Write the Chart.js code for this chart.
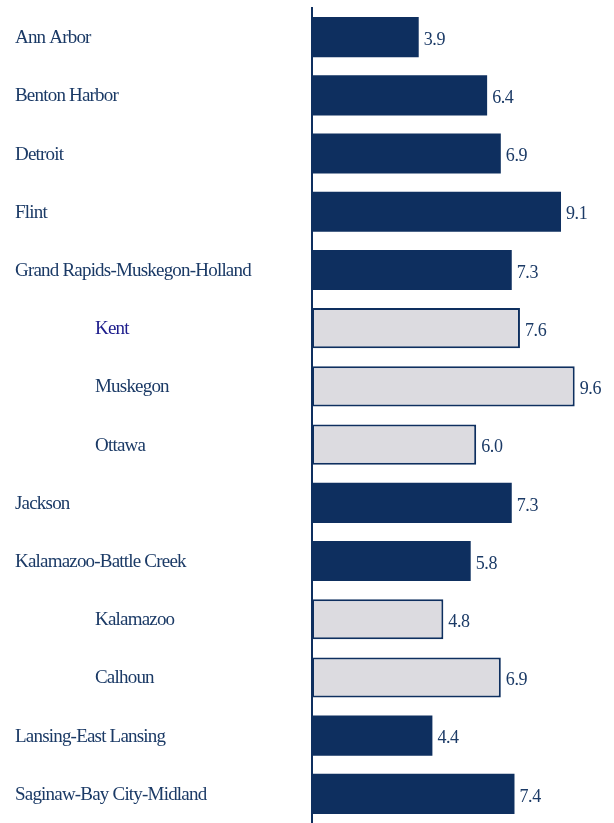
<!DOCTYPE html>
<html>
<head>
<meta charset="utf-8">
<script src="https://cdn.jsdelivr.net/npm/chart.js@4"></script>
<style>
  html, body { margin: 0; padding: 0; background: #fff; }
  #wrap { width: 614px; height: 823px; }
</style>
</head>
<body>
<div id="wrap"><canvas id="rateChart" width="614" height="823"></canvas></div>
<script>
// Data
const areas = ['Ann Arbor', 'Benton Harbor', 'Detroit', 'Flint', 'Grand Rapids-Muskegon-Holland',
  'Kent', 'Muskegon', 'Ottawa', 'Jackson', 'Kalamazoo-Battle Creek', 'Kalamazoo', 'Calhoun',
  'Lansing-East Lansing', 'Saginaw-Bay City-Midland'];
const rates = [3.9, 6.4, 6.9, 9.1, 7.3, 7.6, 9.6, 6.0, 7.3, 5.8, 4.8, 6.9, 4.4, 7.4];
// true = county inside a metro area (indented, light bar)
const isCounty = [false, false, false, false, false, true, true, true, false, false, true, true, false, false];

const navy = '#0e2f5f';
const textNavy = '#1b3a66';
const lightFill = '#dcdbe0';

// labels on the left and values after each bar
const labelPlugin = {
    id: 'labels',
    afterDatasetsDraw(chart) {
        const ctx = chart.ctx;
        const yScale = chart.scales.y;
        const meta = chart.getDatasetMeta(0);
        ctx.save();
        ctx.textBaseline = 'middle';
        ctx.textAlign = 'left';
        areas.forEach((name, i) => {
            const y = yScale.getPixelForValue(i);
            ctx.font = '19px "Liberation Serif", "Times New Roman", serif';
            ctx.letterSpacing = '-0.8px';
            ctx.fillStyle = name === 'Kent' ? '#1c1c8c' : textNavy;
            ctx.fillText(name, isCounty[i] ? 95 : 15, y + 1);

            const bar = meta.data[i];
            ctx.font = '18px "Liberation Serif", "Times New Roman", serif';
            ctx.letterSpacing = '-0.4px';
            ctx.fillStyle = textNavy;
            ctx.fillText(rates[i].toFixed(1), bar.x + 5, y + 3);
        });
        ctx.restore();
    }
};

const ctx = document.getElementById('rateChart').getContext('2d');
new Chart(ctx, {
    type: 'bar',
    data: {
        labels: areas,
        datasets: [{
            data: rates,
            backgroundColor: isCounty.map(c => c ? lightFill : navy),
            borderColor: navy,
            borderWidth: isCounty.map(c => c ? 2 : 0),
            borderSkipped: false,
            barPercentage: 0.69,
            categoryPercentage: 1
        }]
    },
    options: {
        indexAxis: 'y',
        responsive: false,
        animation: false,
        layout: { padding: { left: 312, right: 1, top: 8, bottom: 0 } },
        plugins: {
            legend: { display: false },
            tooltip: { enabled: false }
        },
        scales: {
            x: {
                display: false,
                min: 0,
                max: 11
            },
            y: {
                grid: { display: false, drawTicks: false },
                ticks: { display: false },
                border: { display: true, color: navy, width: 2 }
            }
        }
    },
    plugins: [labelPlugin]
});
</script>
</body>
</html>
